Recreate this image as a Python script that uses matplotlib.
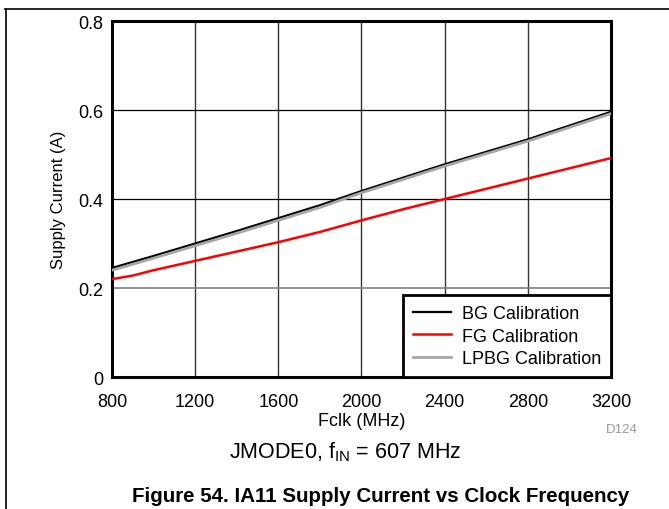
import numpy as np
import matplotlib
matplotlib.use("Agg")
import matplotlib.pyplot as plt
from matplotlib.lines import Line2D

plt.rcParams['font.family'] = ['Liberation Sans', 'DejaVu Sans']

# data
fclk = [800, 1000, 1200, 1400, 1600, 1800, 2000, 2200, 2400, 2600, 2800, 3000, 3200]
bg = [0.245, 0.272, 0.300, 0.328, 0.357, 0.386, 0.418, 0.448, 0.478, 0.506, 0.534, 0.565, 0.596]
lpbg = [0.240, 0.267, 0.295, 0.323, 0.352, 0.381, 0.414, 0.444, 0.474, 0.502, 0.530, 0.561, 0.592]
fclk_fg = [800, 900, 1000, 1200, 1400, 1600, 1800, 2000, 2200, 2400, 2600, 2800, 3000, 3200]
fg = [0.220, 0.228, 0.240, 0.261, 0.282, 0.303, 0.326, 0.352, 0.377, 0.400, 0.423, 0.446, 0.469, 0.492]

xticks = [800, 1200, 1600, 2000, 2400, 2800, 3200]
yticks = [0, 0.2, 0.4, 0.6, 0.8]
ytick_labels = ['0', '0.2', '0.4', '0.6', '0.8']

fig = plt.figure(figsize=(6.69, 5.10), dpi=100)
ax = fig.add_axes([0.1674, 0.2588, 0.7459, 0.698])

# grid
for x in xticks[1:-1]:
    ax.axvline(x, color='#333333', lw=1.0, zorder=1)
for y in yticks[1:-1]:
    c = '#808080' if y == 0.2 else 'black'
    ax.axhline(y, color=c, lw=1.2 if y == 0.2 else 0.9, zorder=1)

ax.plot(fclk, bg, color='black', lw=1.6, zorder=3)
ax.plot(fclk, lpbg, color='#a6a6a6', lw=2.0, zorder=4)
ax.plot(fclk_fg, fg, color='#ff0000', lw=1.8, zorder=3)

ax.set_xlim(800, 3200)
ax.set_ylim(0, 0.8)
ax.set_xticks(xticks)
ax.set_yticks(yticks)
ax.set_yticklabels(ytick_labels)
ax.tick_params(length=0, labelsize=13)
ax.tick_params(axis='x', pad=11.5)
ax.tick_params(axis='y', pad=6)
for s in ax.spines.values():
    s.set_linewidth(2.2)

ax.set_xlabel('Fclk (MHz)', fontsize=13, labelpad=1.5)
ax.set_ylabel('Supply Current (A)', fontsize=12, labelpad=9)

handles = [Line2D([], [], color='black', lw=1.6),
           Line2D([], [], color='#ff0000', lw=1.8),
           Line2D([], [], color='#a6a6a6', lw=2.0)]
leg = ax.legend(handles, ['BG Calibration', 'FG Calibration', 'LPBG Calibration'],
                loc='lower right', fontsize=13, fancybox=False, framealpha=1,
                edgecolor='black', borderaxespad=0, handlelength=2.1,
                labelspacing=0.3, borderpad=0.55, handletextpad=0.6)
leg.get_frame().set_linewidth(2.0)
leg.set_zorder(5)

fig.text(622 / 669, 1 - 430 / 510, 'D124', fontsize=9.5, color='#999999', ha='center', va='center')
fig.text(345 / 669, 1 - 452 / 510, r'JMODE0, f$_{\mathregular{IN}}$ = 607 MHz', fontsize=15.5,
         ha='center', va='center')
fig.text(381 / 669, 1 - 497 / 510, 'Figure 54. IA11 Supply Current vs Clock Frequency',
         fontsize=14.8, fontweight='bold', ha='center', va='center')

# page frame lines
fig.add_artist(Line2D([5 / 669, 1], [1 - 9.5 / 510] * 2, color='black', lw=1.2,
                      transform=fig.transFigure))
fig.add_artist(Line2D([5.5 / 669] * 2, [0, 1 - 9.5 / 510], color='black', lw=1.2,
                      transform=fig.transFigure))

fig.savefig('out.png', dpi=100)
